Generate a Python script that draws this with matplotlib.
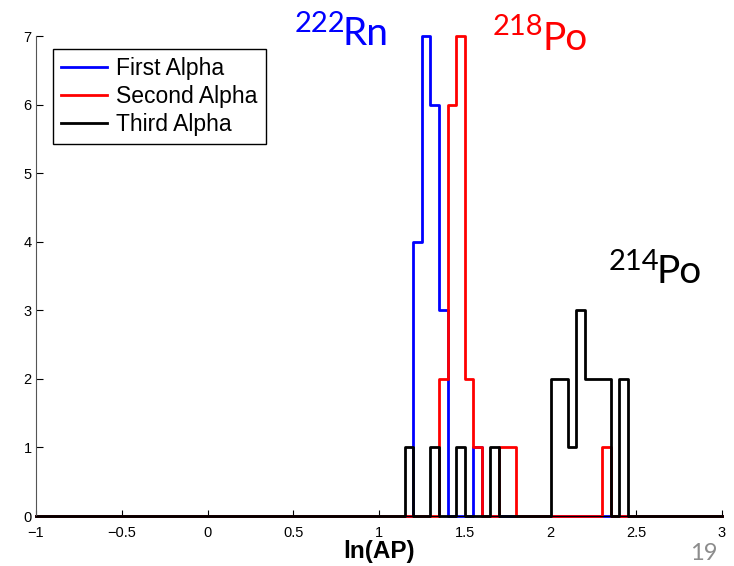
import numpy as np
import matplotlib.pyplot as plt

# histogram counts, bins of width 0.05 on ln(AP)
bin_width = 0.05
x_lo, x_hi = -1.0, 3.0

first_left = [1.20, 1.25, 1.30, 1.35, 1.55]
first_count = [4, 7, 6, 3, 1]

second_left = [1.35, 1.40, 1.45, 1.50, 1.55, 1.70, 1.75, 2.30]
second_count = [2, 6, 7, 2, 1, 1, 1, 1]

third_left = [1.15, 1.30, 1.45, 1.65, 2.00, 2.05, 2.10, 2.15, 2.20, 2.25, 2.30, 2.40]
third_count = [1, 1, 1, 1, 2, 2, 1, 3, 2, 2, 2, 2]

labels = ['First Alpha', 'Second Alpha', 'Third Alpha']
colors = ['#0000ff', '#ff0000', '#000000']

x_ticks = [-1, -0.5, 0, 0.5, 1, 1.5, 2, 2.5, 3]
x_tick_labels = ['\u22121', '\u22120.5', '0', '0.5', '1', '1.5', '2', '2.5', '3']
y_ticks = [0, 1, 2, 3, 4, 5, 6, 7]

plt.rcParams['font.family'] = ['Liberation Sans', 'DejaVu Sans']

nbins = int(round((x_hi - x_lo) / bin_width))
edges = np.linspace(x_lo, x_hi, nbins + 1)


def full_counts(left, count):
    c = np.zeros(nbins)
    for l, n in zip(left, count):
        c[int(round((l - x_lo) / bin_width))] = n
    return c


W, H = 734, 566
fig = plt.figure(figsize=(W / 100, H / 100), dpi=100)
ax = fig.add_axes([36 / W, 1 - 516 / H, 686 / W, 480 / H])

series = [(first_left, first_count), (second_left, second_count), (third_left, third_count)]
for (left, count), lab, col in zip(series, labels, colors):
    c = full_counts(left, count)
    ax.step(edges, np.append(c, 0), where='post', color=col, lw=2.0,
            label=lab, clip_on=False)

ax.set_xlim(x_lo, x_hi)
ax.set_ylim(0, 7)
ax.set_xticks(x_ticks)
ax.set_xticklabels(x_tick_labels)
ax.set_yticks(y_ticks)
ax.tick_params(direction='in', labelsize=10.5, width=0.8)
ax.tick_params(axis='x', length=4, pad=7)
ax.tick_params(axis='y', length=5, pad=3)
for s in ['top', 'right']:
    ax.spines[s].set_visible(False)
ax.spines['left'].set_color('#555555')
ax.spines['left'].set_linewidth(0.8)

ax.set_xlabel('ln(AP)', fontsize=17.5, fontweight='bold', labelpad=0)

leg = ax.legend(loc='upper left', bbox_to_anchor=(0.025, 0.973), borderaxespad=0,
                fontsize=16.5, fancybox=False, edgecolor='black', framealpha=1,
                handlelength=2.0, handletextpad=0.4, labelspacing=0.22,
                borderpad=0.35)
leg.get_frame().set_linewidth(1.0)

# isotope labels
iso_font = ['Lato', 'DejaVu Sans']


def isotope(x_num, y_num, x_sym, y_sym, num, sym, col):
    fig.text(x_num / W, 1 - y_num / H, num, color=col, fontsize=21,
             family=iso_font, va='baseline', ha='left')
    fig.text(x_sym / W, 1 - y_sym / H, sym, color=col, fontsize=28,
             family=iso_font, va='baseline', ha='left')


isotope(295, 32, 343, 45, '222', 'Rn', '#0000ff')
isotope(493, 35, 542, 50, '218', 'Po', '#ff0000')
isotope(609, 270, 657, 283, '214', 'Po', '#000000')

fig.text(690 / W, 1 - 560 / H, '19', color='#8c8c8c', fontsize=17,
         family=iso_font, va='baseline', ha='left')

fig.savefig('out.png', dpi=100)
